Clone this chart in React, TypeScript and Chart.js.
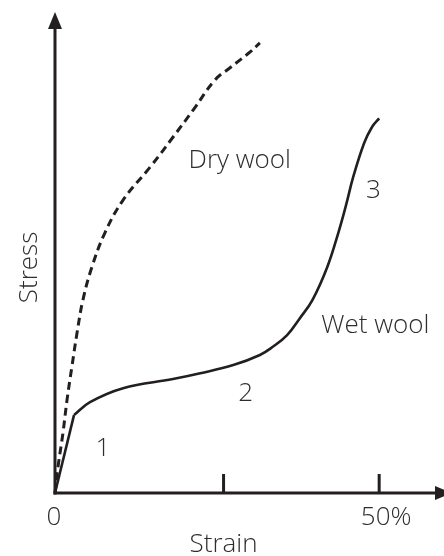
import React, { useEffect, useRef } from 'react';
import { Chart, registerables } from 'chart.js';

Chart.register(...registerables);

// Strain (%) and stress (relative units, 0-100)
const dryStrain = [0, 0.46, 1.23, 1.85, 2.6, 3.4, 4.3, 5.7, 7.7, 10.5, 14.7, 18.1, 21.3, 24.7, 27.0, 30.1, 31.6];
const dryStress = [0, 5.4, 12.5, 19.3, 26.2, 33.3, 40.1, 47.0, 54.1, 60.9, 67.8, 73.8, 79.6, 85.9, 88.4, 91.7, 93.6];

const wetStrain = [0, 2.93, 5.4, 10.5, 18.2, 22.4, 27.5, 31.6, 33.6, 35.8, 37.8, 39.7, 42.0, 43.7, 44.9, 46.0, 47.7, 48.9, 50.0];
const wetStress = [0, 16.2, 18.9, 21.8, 23.7, 24.9, 26.6, 28.7, 30.4, 32.8, 36.4, 40.1, 47.0, 54.1, 59.9, 65.7, 72.8, 76.1, 77.9];
// region 1 (linear) ends at this index of the wet series
const wetYieldIndex = 1;

const xTickValues = [26, 50];
const xLabelValues = [0, 50];
const xLabelTexts = ['0', '50%'];
const xTitle = 'Strain';
const yTitle = 'Stress';

const noteTexts = ['Dry wool', 'Wet wool', '1', '2', '3'];
const noteStrain = [28.5, 49.4, 7.4, 29.4, 49.1];
const noteStress = [67.6, 33.3, 7.7, 19.1, 61.3];

const X_MAX = 60;
const Y_MAX = 100;

const INK = '#231f20';
const TEXT = '#2e2e2e';
const FONT = '300 26px "Open Sans", sans-serif';

const axesPlugin = {
  id: 'hand-axes',
  afterDatasetsDraw(chart: any) {
    const { ctx, chartArea, scales } = chart;
    const { left, right, top, bottom } = chartArea;
    const xs = scales.x;
    const ys = scales.y;
    ctx.save();
    ctx.strokeStyle = INK;
    ctx.fillStyle = INK;
    ctx.lineWidth = 3;
    ctx.lineCap = 'butt';
    // y axis
    ctx.beginPath();
    ctx.moveTo(left, bottom + 1.5);
    ctx.lineTo(left, top + 14);
    ctx.stroke();
    ctx.beginPath();
    ctx.moveTo(left, top);
    ctx.lineTo(left - 7, top + 17);
    ctx.lineTo(left + 7, top + 17);
    ctx.closePath();
    ctx.fill();
    // x axis
    ctx.beginPath();
    ctx.moveTo(left - 1.5, bottom);
    ctx.lineTo(right - 6, bottom);
    ctx.stroke();
    ctx.beginPath();
    ctx.moveTo(right + 8, bottom);
    ctx.lineTo(right - 9, bottom - 7);
    ctx.lineTo(right - 9, bottom + 7);
    ctx.closePath();
    ctx.fill();
    // ticks
    xTickValues.forEach((v) => {
      const px = xs.getPixelForValue(v);
      ctx.beginPath();
      ctx.moveTo(px, bottom);
      ctx.lineTo(px, bottom - 19);
      ctx.stroke();
    });
    // texts
    ctx.fillStyle = TEXT;
    ctx.font = FONT;
    ctx.textAlign = 'center';
    ctx.textBaseline = 'alphabetic';
    xLabelValues.forEach((v, i) => {
      const px = xs.getPixelForValue(v) + (i === 0 ? -1 : 7);
      ctx.fillText(xLabelTexts[i], px, bottom + 32);
    });
    ctx.fillText(xTitle, xs.getPixelForValue(26), bottom + 59);
    noteTexts.forEach((t, i) => {
      ctx.fillText(t, xs.getPixelForValue(noteStrain[i]), ys.getPixelForValue(noteStress[i]));
    });
    ctx.save();
    ctx.translate(left - 18, (top + bottom) / 2 + 15);
    ctx.rotate(-Math.PI / 2);
    ctx.fillText(yTitle, 0, 0);
    ctx.restore();
    ctx.restore();
  },
};

const toPoints = (xs: number[], ys: number[]) => xs.map((x, i) => ({ x, y: ys[i] }));

export default function App() {
  const ref = useRef<HTMLCanvasElement | null>(null);
  useEffect(() => {
    if (!ref.current) return;
    const wet = toPoints(wetStrain, wetStress);
    const chart = new Chart(ref.current, {
      type: 'scatter',
      data: {
        datasets: [
          {
            label: 'Dry wool',
            data: toPoints(dryStrain, dryStress),
            showLine: true,
            borderColor: INK,
            borderWidth: 3,
            borderDash: [8, 5],
            pointRadius: 0,
            tension: 0.4,
            clip: false,
          },
          {
            label: 'Wet wool (region 1)',
            data: wet.slice(0, wetYieldIndex + 1),
            showLine: true,
            borderColor: INK,
            borderWidth: 2.6,
            pointRadius: 0,
            tension: 0,
            clip: false,
          },
          {
            label: 'Wet wool',
            data: wet.slice(wetYieldIndex),
            showLine: true,
            borderColor: INK,
            borderWidth: 2.6,
            pointRadius: 0,
            tension: 0.4,
            clip: false,
          },
        ],
      },
      options: {
        responsive: false,
        animation: false,
        events: [],
        layout: { padding: { left: 55, top: 12, right: 0, bottom: 63 } },
        plugins: { legend: { display: false }, tooltip: { enabled: false } },
        scales: {
          x: { type: 'linear', min: 0, max: X_MAX, display: false },
          y: { type: 'linear', min: 0, max: Y_MAX, display: false },
        },
      } as any,
      plugins: [axesPlugin],
    });
    return () => chart.destroy();
  }, []);
  return (
    <div style={{ position: 'fixed', left: 0, top: 0, width: 444, height: 556, background: '#fff' }}>
      <canvas ref={ref} width={444} height={556} style={{ display: 'block' }} />
    </div>
  );
}
